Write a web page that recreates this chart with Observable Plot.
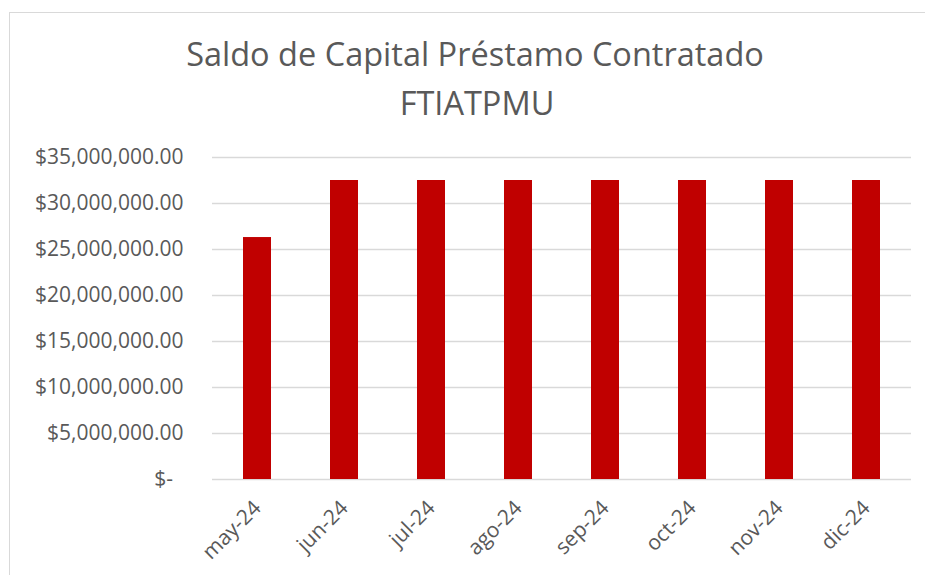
<!DOCTYPE html>
<html>
<head>
<meta charset="utf-8">
<script src="https://cdn.jsdelivr.net/npm/d3@7"></script>
<script src="https://cdn.jsdelivr.net/npm/@observablehq/plot@0.6"></script>
<style>
  html, body { margin: 0; padding: 0; background: #ffffff; }
  #page { position: relative; width: 925px; height: 575px; overflow: hidden; background: #ffffff; }
  #frame { position: absolute; left: 9px; top: 12px; width: 1000px; height: 640px; border: 1.5px solid #d9d9d9; box-sizing: border-box; }
  .title { position: absolute; left: 0; width: 925px; text-align: center; font-family: "Open Sans", sans-serif; color: #595959; font-size: 32.5px; line-height: 1; white-space: nowrap; box-sizing: border-box; }
  #chart { position: absolute; left: 0; top: 0; }
</style>
</head>
<body>
<div id="page">
  <div id="frame"></div>
  <div id="chart"></div>
  <div class="title" id="t1" style="top:38px; padding-left:25px;">Saldo de Capital Préstamo Contratado</div>
  <div class="title" id="t2" style="top:87px; padding-left:29px;">FTIATPMU</div>
</div>
<script>
const months = ["may-24", "jun-24", "jul-24", "ago-24", "sep-24", "oct-24", "nov-24", "dic-24"];
const saldo = [26300000, 32500000, 32500000, 32500000, 32500000, 32500000, 32500000, 32500000];
const yTicks = [0, 5000000, 10000000, 15000000, 20000000, 25000000, 30000000, 35000000];

const data = months.map((m, i) => ({month: m, saldo: saldo[i]}));
const money = d3.format(",.2f");
const fmt = d => d === 0 ? "$-\u2002" : "$" + money(d);

const chart = Plot.plot({
  width: 925,
  height: 575,
  marginTop: 157,
  marginBottom: 96,
  marginLeft: 212,
  marginRight: 14,
  x: {domain: months, paddingInner: 0.68, paddingOuter: 0.34, label: null},
  y: {domain: [0, 35000000], label: null},
  style: {fontFamily: "Open Sans, sans-serif", fontSize: "21px", color: "#595959", background: "transparent", overflow: "visible"},
  marks: [
    Plot.gridY(yTicks, {stroke: "#d9d9d9", strokeOpacity: 1, strokeWidth: 1.5}),
    Plot.barY(data, {x: "month", y: "saldo", fill: "#c00000"}),
    Plot.axisY(yTicks, {tickSize: 0, tickPadding: 29, tickFormat: fmt, fontSize: 21, fill: "#595959", label: null}),
    Plot.axisX({tickSize: 0, tickRotate: -45, tickPadding: 25, fontSize: 21, fill: "#595959", label: null})
  ]
});
document.getElementById("chart").appendChild(chart);
</script>
</body>
</html>
